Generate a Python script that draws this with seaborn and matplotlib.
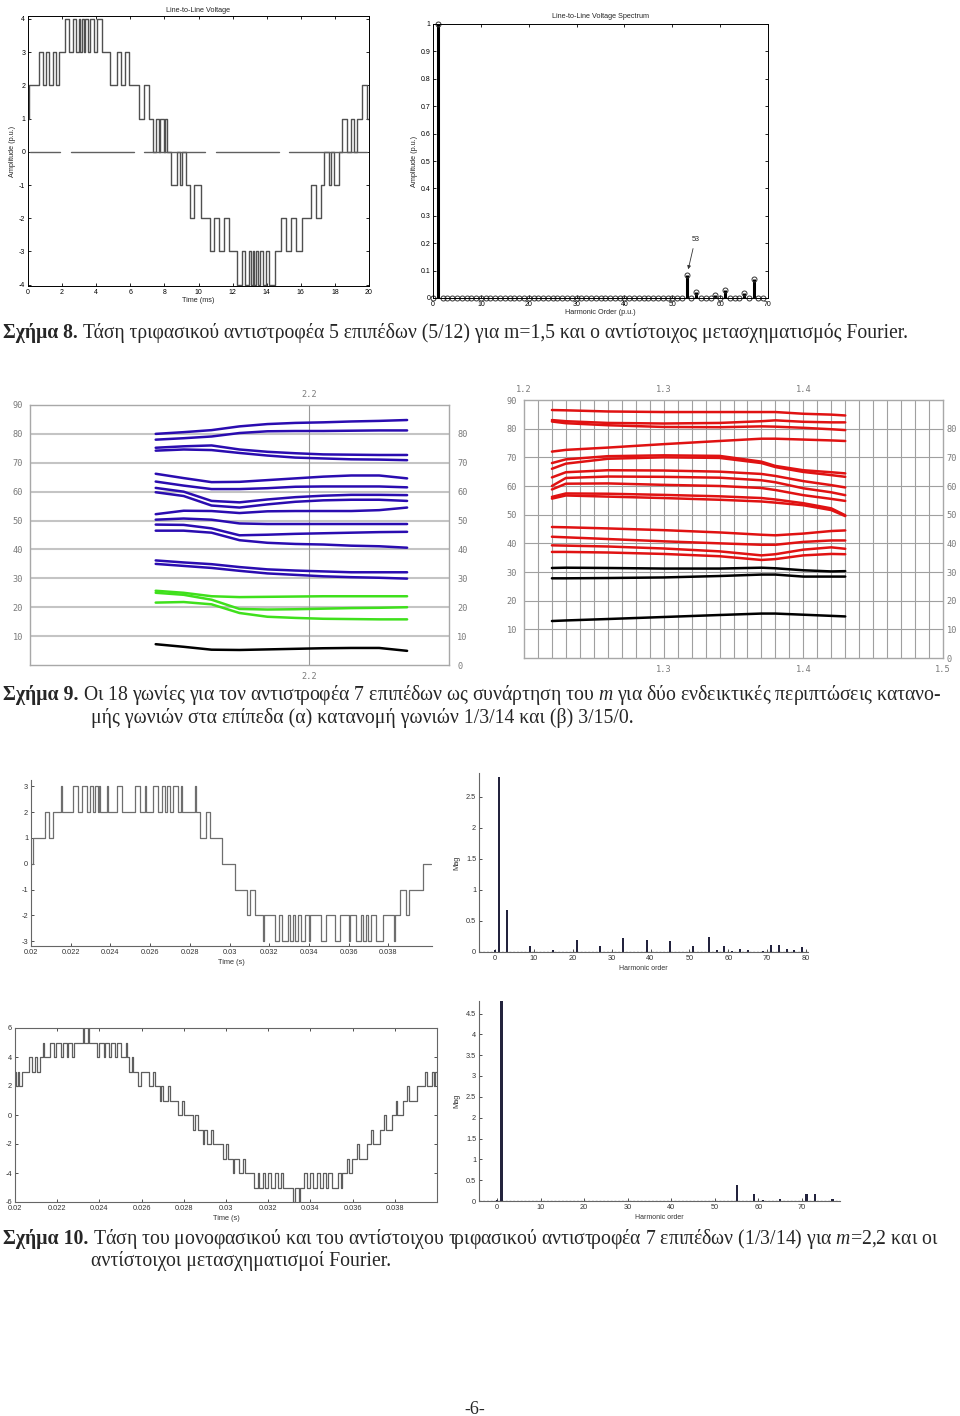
import numpy as np
import pandas as pd
import matplotlib
matplotlib.use("Agg")
import matplotlib.pyplot as plt
import seaborn as sns

# ============================ DATA ============================
# --- Fig. 8 left: line-to-line voltage (time in ms) ---
# each band: (level before first toggle, other level, toggle times)
tl_start_level = 1
tl_end_time = 20.0
tl_bands = [
    (1, 2, [0.08]),
    (2, 3, [0.67, 0.86, 1.06, 1.25, 1.45, 1.62, 1.80]),
    (3, 4, [2.15, 2.43, 2.64, 2.84, 2.97, 3.07, 3.17, 3.27, 3.37, 3.50, 3.66, 3.86, 4.05, 4.34]),
    (3, 2, [4.83, 5.23, 5.46, 5.66, 5.91]),
    (2, 1, [6.50, 6.79, 7.08]),
    (1, 0, [7.32, 7.51, 7.67, 7.77, 7.96, 8.06, 8.16]),
    (0, -1, [8.41, 8.75, 8.89, 9.04, 9.28]),
    (-1, -2, [9.49, 9.73, 10.12]),
    (-2, -3, [10.67, 10.90, 11.23, 11.49, 11.80]),
    (-3, -4, [12.27, 12.55, 12.75, 12.95, 13.07, 13.17, 13.27, 13.37, 13.47, 13.60, 13.76, 13.96, 14.15, 14.46]),
    (-3, -2, [14.81, 15.11, 15.40, 15.69, 16.05]),
    (-2, -1, [16.58, 16.87, 17.16]),
    (-1, 0, [17.36, 17.65, 17.75, 17.95, 18.24]),
    (0, 1, [18.43, 18.73, 18.92, 19.10, 19.32]),
    (1, 2, [19.61, 19.90]),
]
tl_zero_segments = [(0.10, 1.90), (2.50, 6.20), (6.80, 10.40), (11.00, 14.70), (15.30, 19.90)]
tl_xticks = [0, 2, 4, 6, 8, 10, 12, 14, 16, 18, 20]
tl_yticks = [-4, -3, -2, -1, 0, 1, 2, 3, 4]

# --- Fig. 8 right: spectrum ---
tr_max_order = 69
tr_harmonics = [1, 53, 55, 59, 61, 65, 67]
tr_amplitudes = [1.0, 0.085, 0.022, 0.010, 0.028, 0.018, 0.068]
tr_xticks = [0, 10, 20, 30, 40, 50, 60, 70]
tr_yticks = [0, 0.1, 0.2, 0.3, 0.4, 0.5, 0.6, 0.7, 0.8, 0.9, 1.0]
tr_yticklabels = ["0", "0.1", "0.2", "0.3", "0.4", "0.5", "0.6", "0.7", "0.8", "0.9", "1"]

# --- Fig. 9 left: angles vs m (distribution 1/3/14) ---
ml_m = [1.98, 2.02, 2.06, 2.10, 2.14, 2.18, 2.22, 2.26, 2.30, 2.34]
ml_blue = [
    [80.0, 80.6, 81.3, 82.6, 83.4, 83.8, 84.0, 84.3, 84.5, 84.8],
    [78.0, 78.5, 79.1, 80.3, 80.9, 81.0, 81.0, 81.1, 81.2, 81.2],
    [75.2, 75.7, 76.0, 74.6, 73.8, 73.3, 72.9, 72.8, 72.7, 72.7],
    [74.2, 74.6, 74.4, 73.4, 72.5, 71.8, 71.5, 71.2, 71.1, 70.9],
    [66.2, 64.7, 63.3, 63.4, 64.0, 64.6, 65.2, 65.6, 65.6, 64.6],
    [63.5, 62.1, 60.9, 60.9, 61.2, 61.7, 61.8, 61.8, 61.8, 61.5],
    [61.3, 60.0, 56.8, 56.3, 57.3, 58.1, 58.6, 58.9, 58.9, 58.8],
    [59.8, 58.5, 55.2, 54.5, 55.6, 56.5, 57.0, 57.2, 57.2, 56.8],
    [52.2, 53.4, 53.3, 52.6, 53.2, 53.3, 53.3, 53.3, 53.6, 54.5],
    [50.3, 50.7, 50.3, 49.0, 48.8, 48.8, 48.8, 48.8, 48.8, 48.8],
    [48.6, 48.5, 47.3, 44.9, 45.1, 45.4, 45.6, 45.8, 46.0, 46.1],
    [46.5, 46.5, 45.8, 43.2, 42.3, 41.9, 41.7, 41.3, 41.1, 40.6],
    [36.2, 35.5, 34.9, 33.9, 33.1, 32.7, 32.4, 32.1, 32.1, 32.1],
    [35.0, 34.3, 33.6, 32.6, 31.7, 31.2, 30.7, 30.4, 30.2, 29.9],
]
ml_green = [
    [25.7, 25.0, 23.8, 23.5, 23.6, 23.7, 23.8, 23.8, 23.8, 23.8],
    [25.0, 24.3, 22.6, 19.4, 19.2, 19.3, 19.5, 19.7, 19.8, 20.0],
    [21.6, 21.8, 21.0, 18.0, 16.7, 16.3, 16.0, 15.9, 15.8, 15.8],
]
ml_black = [
    [7.2, 6.3, 5.3, 5.2, 5.4, 5.6, 5.8, 5.9, 5.9, 4.9],
]

# --- Fig. 9 right: angles vs m (distribution 3/15/0) ---
mr_m = [1.22, 1.23, 1.26, 1.30, 1.34, 1.37, 1.38, 1.40, 1.42, 1.43]
mr_red = [
    [86.5, 86.4, 86.0, 85.8, 85.8, 85.8, 85.8, 85.2, 84.9, 84.6],
    [83.0, 82.6, 82.0, 81.8, 82.0, 82.6, 82.9, 82.4, 82.2, 82.2],
    [82.5, 81.9, 81.2, 80.6, 80.5, 80.8, 80.7, 80.3, 79.8, 79.5],
    [72.0, 72.6, 73.4, 74.6, 75.7, 76.5, 76.5, 76.2, 75.9, 75.7],
    [68.0, 69.3, 70.4, 70.7, 70.5, 68.5, 67.0, 65.5, 64.8, 64.4],
    [66.0, 67.8, 69.5, 70.0, 69.8, 68.0, 66.6, 64.9, 63.8, 63.2],
    [63.0, 64.8, 65.5, 65.4, 65.0, 64.2, 63.5, 61.7, 60.3, 59.5],
    [60.0, 62.8, 63.3, 63.2, 62.9, 62.0, 61.3, 59.2, 57.8, 56.8],
    [58.8, 60.8, 60.9, 60.4, 60.0, 59.3, 58.6, 56.8, 55.5, 54.8],
    [56.2, 57.4, 57.3, 56.9, 56.4, 55.8, 55.3, 54.0, 52.2, 49.8],
    [55.6, 56.7, 56.3, 55.8, 55.2, 54.6, 54.2, 53.3, 51.6, 49.5],
    [45.7, 45.6, 45.2, 44.6, 43.8, 43.0, 42.8, 43.4, 44.3, 44.5],
    [42.3, 42.1, 41.5, 40.7, 40.0, 39.5, 39.5, 40.5, 41.0, 41.0],
    [39.3, 39.2, 38.9, 38.2, 37.2, 35.8, 36.2, 37.8, 38.6, 38.1],
    [37.0, 37.0, 36.8, 36.3, 35.5, 34.2, 34.5, 35.8, 36.3, 36.2],
]
mr_black = [
    [31.4, 31.5, 31.4, 31.2, 31.2, 31.5, 31.3, 30.6, 30.2, 30.3],
    [27.8, 27.8, 27.9, 28.1, 28.6, 29.1, 29.1, 28.4, 28.4, 28.4],
    [12.9, 13.1, 13.6, 14.3, 15.0, 15.5, 15.5, 15.1, 14.7, 14.5],
]

# --- Fig. 10 top-left: single-phase voltage (time in ms) ---
b1_start_level = 0
b1_start_time = 20.0
b1_end_time = 40.17
b1_bands = [
    (0, 1, [20.12]),
    (1, 2, [20.70, 20.90, 21.09]),
    (2, 3, [21.52, 21.58, 22.13, 22.38, 22.55, 22.84, 22.97, 23.14, 23.22, 23.39, 23.45, 23.50,
            23.82, 23.87, 24.31, 24.56, 25.23, 25.49, 25.72, 25.77, 26.16, 26.41, 26.58, 26.74,
            26.83, 27.00, 27.16, 27.42, 27.56, 27.61, 28.24, 28.29]),
    (2, 1, [28.51, 28.84, 29.01]),
    (1, 0, [29.60]),
    (0, -1, [30.27]),
    (-1, -2, [30.86, 31.02, 31.27]),
    (-2, -3, [31.67, 31.72, 32.28, 32.50, 32.62, 32.95, 33.04, 33.20, 33.29, 33.46, 33.62, 33.79,
              34.02, 34.07, 34.62, 34.87, 35.30, 35.55, 36.04, 36.09, 36.39, 36.64, 36.73, 36.90,
              36.98, 37.15, 37.40, 37.73, 38.30, 38.35]),
    (-2, -1, [38.60, 38.87, 39.03]),
    (-1, 0, [39.75]),
]
b1_xticks = [0.02, 0.022, 0.024, 0.026, 0.028, 0.030, 0.032, 0.034, 0.036, 0.038]
b1_xticklabels = ["0.02", "0.022", "0.024", "0.026", "0.028", "0.03", "0.032", "0.034", "0.036", "0.038"]
b1_yticks = [-3, -2, -1, 0, 1, 2, 3]

# --- Fig. 10 top-right: spectrum of single-phase voltage ---
s1_orders = [0, 1, 3, 9, 15, 21, 27, 33, 39, 45, 51, 55, 57, 59, 61, 63, 65, 69, 71, 73, 75, 77, 79]
s1_mag = [0.03, 2.81, 0.67, 0.09, 0.04, 0.20, 0.09, 0.23, 0.20, 0.18, 0.09, 0.24, 0.04, 0.10,
          0.02, 0.05, 0.03, 0.02, 0.11, 0.11, 0.05, 0.04, 0.08]
s1_xticks = [0, 10, 20, 30, 40, 50, 60, 70, 80]
s1_yticks = [0, 0.5, 1.0, 1.5, 2.0, 2.5]
s1_yticklabels = ["0", "0.5", "1", "1.5", "2", "2.5"]

# --- Fig. 10 bottom-left: three-phase line-to-line voltage (time in ms) ---
b2_start_level = 3
b2_start_time = 20.0
b2_end_time = 40.0
b2_bands = [
    (3, 2, [20.05, 20.14, 20.20, 20.33]),
    (3, 4, [20.68, 20.79, 20.96, 21.05, 21.18]),
    (4, 5, [21.34, 21.38, 21.66, 21.85, 21.94, 22.16, 22.29, 22.45, 22.53, 22.69, 22.80]),
    (5, 6, [23.20, 23.28, 23.45, 23.53]),
    (5, 4, [23.90, 23.98, 24.20, 24.28, 24.45, 24.55, 24.72, 24.85, 25.00, 25.25, 25.29]),
    (4, 3, [25.42]),
    (3, 4, [25.55, 25.60]),
    (3, 2, [25.85, 25.95, 26.37]),
    (2, 3, [26.52, 26.62]),
    (2, 1, [26.85, 26.90, 27.03]),
    (1, 2, [27.25, 27.35]),
    (1, 0, [27.74]),
    (0, 1, [27.90, 28.00]),
    (0, -1, [28.42]),
    (-1, 0, [28.55, 28.65]),
    (-1, -2, [28.90, 28.95, 29.12]),
    (-2, -1, [29.30, 29.40]),
    (-2, -3, [29.84]),
    (-3, -2, [30.00, 30.10]),
    (-3, -4, [30.35, 30.40, 30.63]),
    (-4, -3, [30.80, 30.90]),
    (-4, -5, [31.33, 31.50, 31.58, 31.75, 31.85, 32.00, 32.15, 32.30, 32.45, 32.60, 32.72]),
    (-5, -6, [33.19, 33.27, 33.45, 33.53]),
    (-5, -4, [33.70, 33.85, 34.00, 34.12, 34.30, 34.45, 34.60, 34.72, 34.85, 35.00, 35.32]),
    (-4, -5, [35.45, 35.50]),
    (-4, -3, [35.75, 35.85, 35.96]),
    (-3, -2, [36.20, 36.28, 36.67]),
    (-2, -1, [36.85, 36.95, 37.30]),
    (-1, 0, [37.50, 37.58, 37.85]),
    (0, 1, [38.05, 38.12, 38.40]),
    (1, 2, [38.60, 38.68, 39.04]),
    (2, 3, [39.45, 39.52, 39.75, 39.85, 39.92]),
]
b2_yticks = [-6, -4, -2, 0, 2, 4, 6]

# --- Fig. 10 bottom-right: spectrum of line-to-line voltage ---
s2_orders = [0, 1, 55, 59, 61, 65, 71, 73, 77]
s2_mag = [0.03, 4.90, 0.39, 0.17, 0.02, 0.05, 0.18, 0.18, 0.05]
s2_xticks = [0, 10, 20, 30, 40, 50, 60, 70]
s2_yticks = [0, 0.5, 1.0, 1.5, 2.0, 2.5, 3.0, 3.5, 4.0, 4.5]
s2_yticklabels = ["0", "0.5", "1", "1.5", "2", "2.5", "3", "3.5", "4", "4.5"]

# --- texts ---
cap8_bold = "Σχήμα 8."
cap8_rest = "Τάση τριφασικού αντιστροφέα 5 επιπέδων (5/12) για m=1,5 και ο αντίστοιχος μετασχηματισμός Fourier."
cap9_bold = "Σχήμα 9."
cap9_rest = "Οι 18 γωνίες για τον αντιστροφέα 7 επιπέδων ως συνάρτηση του $m$ για δύο ενδεικτικές περιπτώσεις κατανο-"
cap9_line2 = "μής γωνιών στα επίπεδα (α) κατανομή γωνιών 1/3/14 και (β) 3/15/0."
cap10_bold = "Σχήμα 10."
cap10_rest = "Τάση του μονοφασικού και του αντίστοιχου τριφασικού αντιστροφέα 7 επιπέδων (1/3/14) για $m$=2,2 και οι"
cap10_line2 = "αντίστοιχοι μετασχηματισμοί Fourier."
page_number = "-6-"

# ============================ FIGURE ============================
sns.set_theme(style="white")
plt.rcParams['font.family'] = ['Liberation Sans', 'DejaVu Sans']
plt.rcParams['mathtext.fontset'] = 'custom'
plt.rcParams['mathtext.it'] = 'Liberation Serif:italic'
plt.rcParams['mathtext.rm'] = 'Liberation Serif'
plt.rcParams['axes.unicode_minus'] = False

W, H = 960, 1416
fig = plt.figure(figsize=(9.6, 14.16), dpi=100)
fig.patch.set_facecolor('white')


def box(x0, y0, x1, y1):
    return [x0 / W, 1 - y1 / H, (x1 - x0) / W, (y1 - y0) / H]


def build_wave(start_level, t0, t_end, bands, scale=1.0):
    xs, ys = [t0], [start_level]
    cur = start_level
    for a, b, times in bands:
        for t in times:
            nxt = b if cur == a else a
            xs += [t, t]
            ys += [cur, nxt]
            cur = nxt
    xs.append(t_end)
    ys.append(cur)
    return np.array(xs) * scale, np.array(ys)


def matlab_style(ax, fs=5.0):
    ax.tick_params(direction='in', top=True, right=True, bottom=True, left=True,
                   length=2.5, width=0.6, labelsize=fs, pad=2, colors='black')
    for s in ax.spines.values():
        s.set_visible(True)
        s.set_color('black')
        s.set_linewidth(0.7)


# ---------- Fig 8 left ----------
ax = fig.add_axes(box(28, 16, 369, 286))
tx, ty = build_wave(tl_start_level, 0.0, tl_end_time, tl_bands)
sns.lineplot(x=tx, y=ty, ax=ax, sort=False, estimator=None, color='#505050', lw=1.0)
for a, b in tl_zero_segments:
    ax.plot([a, b], [0, 0], color='#606060', lw=1.0)
ax.set_xlim(0, 20)
ax.set_ylim(-4.04, 4.09)
ax.set_xticks(tl_xticks)
ax.set_yticks(tl_yticks)
matlab_style(ax)
ax.set_title("Line-to-Line Voltage", fontsize=5.2, pad=3)
ax.set_xlabel("Time (ms)", fontsize=5.2, labelpad=1)
ax.set_ylabel("Amplitude (p.u.)", fontsize=5.2, labelpad=2)

# ---------- Fig 8 right ----------
ax = fig.add_axes(box(433, 24, 768, 298))
amp_map = dict(zip(tr_harmonics, tr_amplitudes))
orders = list(range(0, tr_max_order + 1))
amps = [amp_map.get(o, 0.0) for o in orders]
ax.vlines(tr_harmonics, 0, tr_amplitudes, color='black', lw=2.2)
sns.lineplot(x=orders, y=amps, ax=ax, estimator=None, lw=0, marker='o', markersize=3.6,
             markerfacecolor='none', markeredgecolor='#333333', markeredgewidth=0.7, clip_on=False)
ax.set_xlim(0, 70)
ax.set_ylim(0, 1.0)
ax.set_xticks(tr_xticks)
ax.set_yticks(tr_yticks)
ax.set_yticklabels(tr_yticklabels)
matlab_style(ax)
ax.annotate("53", xy=(53.2, 0.095), xytext=(54.8, 0.215), fontsize=5.2, ha='center', va='center',
            arrowprops=dict(arrowstyle='-|>', color='#333333', lw=0.6, mutation_scale=5))
ax.set_title("Line-to-Line Voltage Spectrum", fontsize=5.2, pad=4)
ax.set_xlabel("Harmonic Order (p.u.)", fontsize=5.2, labelpad=1)
ax.set_ylabel("Amplitude (p.u.)", fontsize=5.2, labelpad=2)


# ---------- Fig 9 helpers ----------
def angle_frame(m, groups):
    rows = []
    k = 0
    pal = {}
    for color, series in groups:
        for s in series:
            for mv, av in zip(m, s):
                rows.append((mv, av, k))
            pal[k] = color
            k += 1
    return pd.DataFrame(rows, columns=['m', 'angle', 'line']), pal


mono = 'DejaVu Sans Mono'
gray_txt = '#7a7a7a'


def gnu_axes(ax, xlim, bottom_ticks, top_ticks, fmt, rpad):
    ax.set_xlim(*xlim)
    ax.set_ylim(0, 90)
    ax.set_yticks(range(10, 100, 10))
    ax.set_yticklabels([str(v) for v in range(10, 100, 10)], family=mono, fontsize=6.2, color=gray_txt)
    ax.set_xticks(bottom_ticks)
    ax.set_xticklabels([fmt % v for v in bottom_ticks], family=mono, fontsize=6.2, color=gray_txt)
    ax.tick_params(length=0, pad=5, left=True, bottom=True)
    for s in ax.spines.values():
        s.set_visible(True)
        s.set_color('#a8a8a8')
        s.set_linewidth(1.0)
    r = ax.twinx()
    r.set_ylim(0, 90)
    r.set_yticks(range(0, 90, 10))
    r.set_yticklabels([str(v) for v in range(0, 90, 10)], family=mono, fontsize=6.2, color=gray_txt)
    r.tick_params(length=0, pad=rpad)
    r.grid(False)
    for s in r.spines.values():
        s.set_visible(False)
    t = ax.secondary_xaxis('top')
    t.set_xticks(top_ticks)
    t.set_xticklabels([fmt % v for v in top_ticks], family=mono, fontsize=6.2, color=gray_txt)
    t.tick_params(length=0, pad=4)
    t.spines['top'].set_visible(False)


# ---------- Fig 9 left ----------
ax = fig.add_axes(box(30, 405, 449, 665))
df, pal = angle_frame(ml_m, [('#2a0cb0', ml_blue), ('#3fe01c', ml_green), ('#000000', ml_black)])
ax.set_axisbelow(True)
for y in range(10, 90, 10):
    ax.axhline(y, color='#c4c4c4', lw=1.5, zorder=0)
ax.axvline(2.2, color='#9a9a9a', lw=0.8, zorder=0)
sns.lineplot(data=df, x='m', y='angle', hue='line', palette=pal, legend=False, ax=ax,
             estimator=None, sort=False, lw=1.8)
gnu_axes(ax, (1.8, 2.4), [2.2], [2.2], '%.1f', 6)
ax.set_xlabel('')
ax.set_ylabel('')

# ---------- Fig 9 right ----------
ax = fig.add_axes(box(524, 400, 943, 658))
df, pal = angle_frame(mr_m, [('#e01212', mr_red), ('#000000', mr_black)])
ax.set_axisbelow(True)
for y in range(10, 90, 10):
    ax.axhline(y, color='#a0a0a0', lw=0.8, zorder=0)
for xv in np.arange(1.21, 1.495, 0.01):
    ax.axvline(xv, color='#a0a0a0', lw=0.8, zorder=0)
sns.lineplot(data=df, x='m', y='angle', hue='line', palette=pal, legend=False, ax=ax,
             estimator=None, sort=False, lw=1.8)
gnu_axes(ax, (1.2, 1.5), [1.3, 1.4, 1.5], [1.2, 1.3, 1.4], '%.1f', 2.5)
ax.set_xlabel('')
ax.set_ylabel('')


# ---------- Fig 10 waveforms ----------
def wave_axes(ax, ylim, yticks, full_box):
    ax.set_xlim(0.02, ylim[2])
    ax.set_ylim(ylim[0], ylim[1])
    ax.set_xticks(b1_xticks)
    ax.set_xticklabels(b1_xticklabels)
    ax.set_yticks(yticks)
    ax.tick_params(direction='in', bottom=True, left=True, top=full_box, right=full_box,
                   length=2.5, width=0.6, labelsize=5.3, pad=2, colors='#333333')
    for name, s in ax.spines.items():
        s.set_color('#666666')
        s.set_linewidth(0.8)
        s.set_visible(full_box or name in ('left', 'bottom'))
    ax.set_xlabel("Time (s)", fontsize=5.3, labelpad=2, color='#333333')
    ax.set_ylabel('')


ax = fig.add_axes(box(31, 780, 432, 946))
bx, by = build_wave(b1_start_level, b1_start_time, b1_end_time, b1_bands, scale=1e-3)
sns.lineplot(x=bx, y=by, ax=ax, sort=False, estimator=None, color='#6e6e6e', lw=0.9)
wave_axes(ax, (-3.19, 3.25, 0.0402), b1_yticks, False)

ax = fig.add_axes(box(15, 1028, 437, 1202))
bx, by = build_wave(b2_start_level, b2_start_time, b2_end_time, b2_bands, scale=1e-3)
sns.lineplot(x=bx, y=by, ax=ax, sort=False, estimator=None, color='#5e5e5e', lw=0.9)
wave_axes(ax, (-6, 6, 0.040), b2_yticks, True)


# ---------- Fig 10 spectra ----------
def spec_axes(ax, orders, mags, xlim, ylim, xticks, yticks, ylabels):
    ax.bar(orders, mags, width=0.55, color='#23233d', edgecolor='none')
    ax.axhline(0.006, color='#303040', lw=0.9, ls=(0, (1.5, 1.5)))
    ax.set_xlim(*xlim)
    ax.set_ylim(*ylim)
    ax.set_xticks(xticks)
    ax.set_yticks(yticks)
    ax.set_yticklabels(ylabels)
    ax.tick_params(direction='in', bottom=True, left=True, length=2.5, width=0.6,
                   labelsize=5.3, pad=2, colors='#333333')
    for name, s in ax.spines.items():
        s.set_color('#666666')
        s.set_linewidth(0.8)
        s.set_visible(name in ('left', 'bottom'))
    ax.set_xlabel("Harmonic order", fontsize=5.0, labelpad=2, color='#333333')
    ax.set_ylabel("Mag", fontsize=5.3, labelpad=4, color='#333333')


ax = fig.add_axes(box(479, 773, 808, 952))
spec_axes(ax, s1_orders, s1_mag, (-4.1, 80.5), (0, 2.88), s1_xticks, s1_yticks, s1_yticklabels)

ax = fig.add_axes(box(479, 1001, 840, 1201))
spec_axes(ax, s2_orders, s2_mag, (-4.13, 78.7), (0, 4.8), s2_xticks, s2_yticks, s2_yticklabels)

# ---------- captions ----------
bg = fig.add_axes([0, 0, 1, 1], zorder=-1)
bg.set_axis_off()
bg.set_xlim(0, W)
bg.set_ylim(H, 0)
serif = 'Liberation Serif'
renderer = fig.canvas.get_renderer()


def caption_line(x, y, bold, rest, x_end, fs):
    t1 = bg.text(x, y, bold, fontsize=fs, fontweight='bold', family=serif, va='baseline')
    bb = t1.get_window_extent(renderer)
    t2 = bg.text(bb.x1 + 0.35 * fs, y, rest, fontsize=fs, family=serif, va='baseline')
    bb2 = t2.get_window_extent(renderer)
    if x_end is not None:
        k = (x_end - x) / (bb2.x1 - x)
        fs2 = fs * k
        t1.set_fontsize(fs2)
        bb = t1.get_window_extent(renderer)
        t2.set_fontsize(fs2)
        t2.set_x(bb.x1 + 0.35 * fs2)
        return fs2
    return fs


fs8 = caption_line(3, 338, cap8_bold, cap8_rest, 908, 12)
fs9 = caption_line(3, 700, cap9_bold, cap9_rest, 940, 12)
bg.text(91, 723, cap9_line2, fontsize=fs9, family=serif, va='baseline')
fs10 = caption_line(3, 1244, cap10_bold, cap10_rest, 936, 12)
bg.text(91, 1266, cap10_line2, fontsize=fs10, family=serif, va='baseline')
bg.text(475, 1414, page_number, fontsize=13, family=serif, ha='center', va='baseline')

fig.savefig("out.png", dpi=100, facecolor='white')
